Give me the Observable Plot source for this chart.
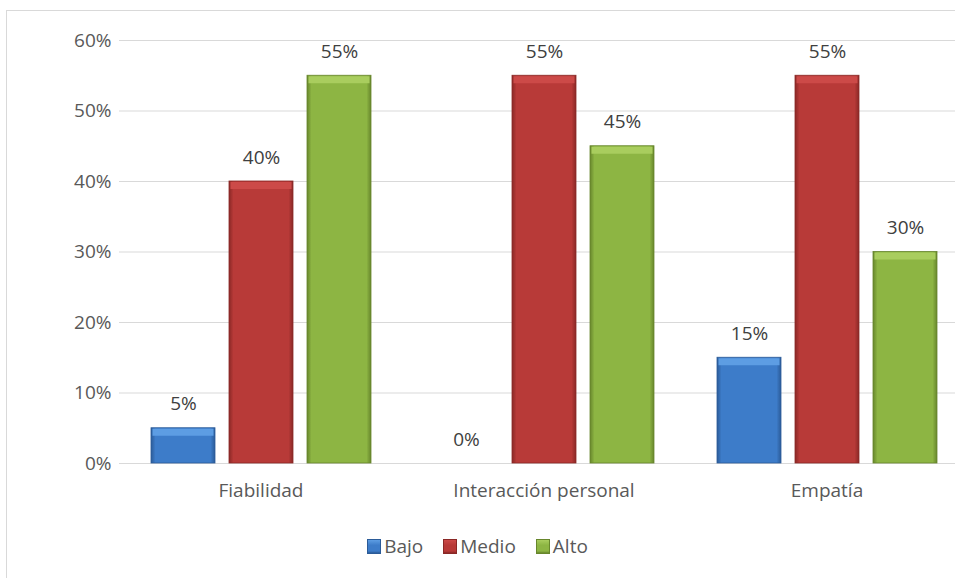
<!DOCTYPE html>
<html>
<head>
<meta charset="utf-8">
<script src="https://cdn.jsdelivr.net/npm/d3@7"></script>
<script src="https://cdn.jsdelivr.net/npm/@observablehq/plot@0.6"></script>
<style>
  html, body { margin: 0; padding: 0; background: #fff; }
  #wrap { position: relative; width: 955px; height: 578px; overflow: hidden; font-family: "Open Sans", sans-serif; }
  #frame { position: absolute; left: 6px; top: 10px; width: 1000px; height: 700px; border: 1px solid #d9d9d9; box-sizing: border-box; }
  #chart { position: absolute; left: 0; top: 0; }
  #legend { position: absolute; left: 0; top: 533px; width: 955px; display: flex; justify-content: center; align-items: center; gap: 0; font-size: 19px; color: #595959; }
  .item { display: flex; align-items: center; margin: 0 10px; }
  .sw { width: 14px; height: 15px; margin-right: 3px; box-sizing: border-box; }
</style>
</head>
<body>
<div id="wrap">
  <div id="frame"></div>
  <div id="chart"></div>
  <div id="legend"></div>
</div>
<script>
const categories = ["Fiabilidad", "Interacción personal", "Empatía"];
const series = ["Bajo", "Medio", "Alto"];
const bajo = [0.05, 0.00, 0.15];
const medio = [0.40, 0.55, 0.55];
const alto = [0.55, 0.45, 0.30];
const yTicks = [0, 0.1, 0.2, 0.3, 0.4, 0.5, 0.6];

const palette = {
  Bajo:  {body: "#3d7cc9", edge: "#2b5b98", top: "#5d9de3"},
  Medio: {body: "#b83a38", edge: "#8a2826", top: "#cc4a48"},
  Alto:  {body: "#8db543", edge: "#67862c", top: "#a9cd5e"}
};

const values = {Bajo: bajo, Medio: medio, Alto: alto};
const data = [];
categories.forEach((c, i) => series.forEach(s => data.push({cat: c, serie: s, value: values[s][i]})));

const fmt = d3.format(".0%");

const chart = Plot.plot({
  width: 955,
  height: 578,
  marginTop: 40,
  marginBottom: 115,
  marginLeft: 119,
  marginRight: -13,
  style: {fontFamily: "Open Sans, sans-serif", fontSize: "19px", color: "#595959", background: "transparent", overflow: "visible"},
  fx: {domain: categories, padding: 0, label: null},
  x: {domain: series, paddingInner: 0.18, paddingOuter: 0.404, axis: null},
  y: {domain: [0, 0.6], label: null},
  marks: [
    Plot.ruleY(yTicks, {stroke: "#d9d9d9", strokeWidth: 1}),
    Plot.axisY({ticks: yTicks, tickFormat: fmt, tickSize: 0, tickPadding: 8, label: null, fill: "#595959"}),
    Plot.axisFx({anchor: "bottom", tickSize: 0, tickPadding: 20, label: null, fill: "#595959"}),
    Plot.barY(data, {fx: "cat", x: "serie", y: "value", fill: d => "url(#g" + d.serie + ")", stroke: d => palette[d.serie].edge, strokeWidth: 0.8}),
    Plot.tickY(data.filter(d => d.value > 0), {fx: "cat", x: "serie", y: "value", stroke: d => palette[d.serie].top, strokeWidth: 7, dy: 4, inset: 1.5}),
    Plot.text(data, {fx: "cat", x: "serie", y: "value", text: d => fmt(d.value), dy: -24, fill: "#404040", fontSize: 19})
  ]
});

const svg = d3.select(chart);
const defs = svg.insert("defs", ":first-child");
for (const s of series) {
  const g = defs.append("linearGradient").attr("id", "g" + s).attr("x1", 0).attr("x2", 1).attr("y1", 0).attr("y2", 0);
  const p = palette[s];
  [[0, p.edge], [0.07, p.body], [0.5, p.body], [0.93, p.body], [1, p.edge]].forEach(([o, c]) =>
    g.append("stop").attr("offset", o).attr("stop-color", c));
}
document.getElementById("chart").appendChild(chart);

const legend = document.getElementById("legend");
for (const s of series) {
  const p = palette[s];
  const item = document.createElement("div");
  item.className = "item";
  const sw = document.createElement("span");
  sw.className = "sw";
  sw.style.background = `linear-gradient(to bottom, ${p.top} 0%, ${p.body} 40%, ${p.body} 85%, ${p.edge} 100%)`;
  sw.style.border = `1px solid ${p.edge}`;
  const t = document.createElement("span");
  t.textContent = s;
  item.appendChild(sw);
  item.appendChild(t);
  legend.appendChild(item);
}
</script>
</body>
</html>
